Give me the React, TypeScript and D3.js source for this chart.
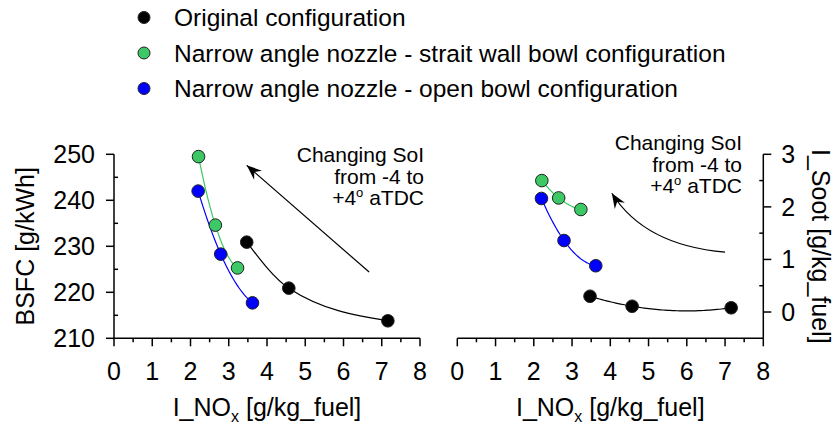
import React from "react";
import * as d3 from "d3";

// I_NOx [g/kg_fuel] for each configuration (SoI -4, 0, +4 deg aTDC)
const noxOriginal = [3.47, 4.57, 7.16];
const noxStrait = [2.21, 2.65, 3.23];
const noxOpen = [2.2, 2.79, 3.62];

// BSFC [g/kWh]
const bsfcOriginal = [230.9, 220.9, 213.8];
const bsfcStrait = [249.5, 234.6, 225.3];
const bsfcOpen = [242.0, 228.3, 217.7];

// I_Soot [g/kg_fuel]
const sootOriginal = [0.3, 0.11, 0.08];
const sootStrait = [2.5, 2.17, 1.95];
const sootOpen = [2.16, 1.36, 0.88];

const legendLabels = [
  "Original configuration",
  "Narrow angle nozzle - strait wall bowl configuration",
  "Narrow angle nozzle - open bowl configuration",
];
const seriesColors = ["#000000", "#3cc864", "#0000ff"];

const xTicks = [0, 1, 2, 3, 4, 5, 6, 7, 8];
const bsfcTicks = [210, 220, 230, 240, 250];
const sootTicks = [0, 1, 2, 3];

const FONT = "'Liberation Sans', Arial, sans-serif";

// quadratic through three points
function quad(xs: number[], ys: number[]) {
  return (x: number) => {
    let s = 0;
    for (let i = 0; i < 3; i++) {
      let t = ys[i];
      for (let j = 0; j < 3; j++) if (j !== i) t *= (x - xs[j]) / (xs[i] - xs[j]);
      s += t;
    }
    return s;
  };
}

function fitPoints(xs: number[], ys: number[]) {
  const f = quad(xs, ys);
  const a = xs[0];
  const b = xs[xs.length - 1];
  return d3.range(0, 61).map((i) => {
    const x = a + ((b - a) * i) / 60;
    return [x, f(x)] as [number, number];
  });
}

function arrowHead(tip: [number, number], from: [number, number]) {
  const ang = Math.atan2(tip[1] - from[1], tip[0] - from[0]);
  const L = 15;
  const W = 6;
  const N = 10;
  const ca = Math.cos(ang);
  const sa = Math.sin(ang);
  const pt = (u: number, v: number) => [tip[0] + u * ca - v * sa, tip[1] + u * sa + v * ca];
  const p1 = pt(-L, W);
  const p2 = pt(-N, 0);
  const p3 = pt(-L, -W);
  return `M${tip[0]},${tip[1]}L${p1[0]},${p1[1]}L${p2[0]},${p2[1]}L${p3[0]},${p3[1]}Z`;
}

function SoIText({ x, y }: { x: number; y: number }) {
  return (
    <text x={x} y={y} fontSize={21} textAnchor="end" fontFamily={FONT}>
      <tspan x={x} dy={0}>Changing SoI</tspan>
      <tspan x={x} dy={21.5}>from -4 to</tspan>
      <tspan x={x} dy={21.5}>
        +4<tspan fontSize={13} dy={-8}>o</tspan>
        <tspan dy={8}> aTDC</tspan>
      </tspan>
    </text>
  );
}

function NoxLabel({ x, y }: { x: number; y: number }) {
  return (
    <text x={x} y={y} fontSize={25} textAnchor="middle" fontFamily={FONT}>
      I_NO<tspan fontSize={16} dy={6}>x</tspan>
      <tspan dy={-6}> [g/kg_fuel]</tspan>
    </text>
  );
}

export default function App() {
  const top = 154.3;
  const bottom = 338.3;
  const xL = d3.scaleLinear().domain([0, 8]).range([114, 420]);
  const xR = d3.scaleLinear().domain([0, 8]).range([457.3, 763.3]);
  const yB = d3.scaleLinear().domain([210, 250]).range([bottom, top]);
  const yS = d3.scaleLinear().domain([-0.5, 3]).range([bottom, top]);

  const noxSets = [noxOriginal, noxStrait, noxOpen];
  const bsfcSets = [bsfcOriginal, bsfcStrait, bsfcOpen];
  const sootSets = [sootOriginal, sootStrait, sootOpen];

  const lineL = d3.line<[number, number]>().x((d) => xL(d[0])).y((d) => yB(d[1]));
  const lineLMono = d3
    .line<[number, number]>()
    .x((d) => xL(d[0]))
    .y((d) => yB(d[1]))
    .curve(d3.curveMonotoneX);
  const lineR = d3.line<[number, number]>().x((d) => xR(d[0])).y((d) => yS(d[1]));

  const minorX = d3.range(0.5, 8, 1);
  const minorB = d3.range(215, 250, 10);
  const minorS = [0.5, 1.5, 2.5];

  const drawX = (x: d3.ScaleLinear<number, number>, key: string) => (
    <g key={key}>
      <line x1={x(0)} x2={x(8)} y1={bottom} y2={bottom} stroke="#000" strokeWidth={1.5} />
      {xTicks.map((t) => (
        <g key={t}>
          <line x1={x(t)} x2={x(t)} y1={bottom} y2={bottom + 8} stroke="#000" strokeWidth={1.5} />
          <text x={x(t)} y={bottom + 42} fontSize={25} textAnchor="middle" fontFamily={FONT}>
            {t}
          </text>
        </g>
      ))}
      {minorX.map((t) => (
        <line key={"m" + t} x1={x(t)} x2={x(t)} y1={bottom} y2={bottom + 4} stroke="#000" strokeWidth={1.5} />
      ))}
    </g>
  );

  // left arrow (straight)
  const la0: [number, number] = [xL(6.67), yB(224.4)];
  const la1: [number, number] = [xL(3.47), yB(247.6)];
  // right arrow (curved)
  const ra0: [number, number] = [xR(7.0), yS(1.14)];
  const raC: [number, number] = [xR(4.9), yS(1.27)];
  const ra1: [number, number] = [xR(4.04), yS(2.26)];

  const leftPath = (i: number) => {
    const xs = noxSets[i];
    const ys = bsfcSets[i];
    if (i === 0) {
      return lineLMono(xs.map((x, j) => [x, ys[j]] as [number, number])) || "";
    }
    return lineL(fitPoints(xs, ys)) || "";
  };

  return (
    <svg
      width={836}
      height={429}
      style={{ position: "absolute", left: 0, top: 0, background: "#fff" }}
      fontFamily={FONT}
    >
      <rect width={836} height={429} fill="#fff" />

      {/* legend */}
      {legendLabels.map((lab, i) => (
        <g key={lab}>
          <circle cx={144} cy={17.5 + i * 35.5} r={6} fill={seriesColors[i]} stroke="#222" strokeWidth={1} />
          <text x={174} y={17.5 + i * 35.5} dy="0.35em" fontSize={24.5} fontFamily={FONT}>
            {lab}
          </text>
        </g>
      ))}

      {/* left panel: BSFC */}
      {drawX(xL, "xl")}
      <line x1={xL(0)} x2={xL(0)} y1={bottom} y2={top} stroke="#000" strokeWidth={1.5} />
      {bsfcTicks.map((t) => (
        <g key={t}>
          <line x1={xL(0) - 8} x2={xL(0)} y1={yB(t)} y2={yB(t)} stroke="#000" strokeWidth={1.5} />
          <text x={xL(0) - 19} y={yB(t)} dy="0.36em" fontSize={25} textAnchor="end" fontFamily={FONT}>
            {t}
          </text>
        </g>
      ))}
      {minorB.map((t) => (
        <line key={"mb" + t} x1={xL(0)} x2={xL(0) + 4} y1={yB(t)} y2={yB(t)} stroke="#000" strokeWidth={1.5} />
      ))}
      <text
        transform={`translate(34,${(top + bottom) / 2}) rotate(-90)`}
        fontSize={25}
        textAnchor="middle"
        fontFamily={FONT}
      >
        BSFC [g/kWh]
      </text>
      <NoxLabel x={(xL(0) + xL(8)) / 2} y={416} />

      {noxSets.map((xs, i) => (
        <path key={"fl" + i} d={leftPath(i)} fill="none" stroke={seriesColors[i]} strokeWidth={1.2} />
      ))}
      {noxSets.map((xs, i) =>
        xs.map((x, j) => (
          <circle key={"pl" + i + j} cx={xL(x)} cy={yB(bsfcSets[i][j])} r={6.3} fill={seriesColors[i]} stroke="#222" strokeWidth={1} />
        ))
      )}

      <line x1={la0[0]} y1={la0[1]} x2={la1[0]} y2={la1[1]} stroke="#000" strokeWidth={1.2} />
      <path d={arrowHead(la1, la0)} fill="#000" />
      <SoIText x={424} y={162} />

      {/* right panel: soot */}
      {drawX(xR, "xr")}
      <line x1={xR(8)} x2={xR(8)} y1={bottom} y2={top} stroke="#000" strokeWidth={1.5} />
      {sootTicks.map((t) => (
        <g key={t}>
          <line x1={xR(8)} x2={xR(8) + 8} y1={yS(t)} y2={yS(t)} stroke="#000" strokeWidth={1.5} />
          <text x={xR(8) + 18} y={yS(t)} dy="0.36em" fontSize={25} textAnchor="start" fontFamily={FONT}>
            {t}
          </text>
        </g>
      ))}
      {minorS.map((t) => (
        <line key={"ms" + t} x1={xR(8) - 4} x2={xR(8)} y1={yS(t)} y2={yS(t)} stroke="#000" strokeWidth={1.5} />
      ))}
      <text
        transform={`translate(812,${(top + bottom) / 2}) rotate(90)`}
        fontSize={25}
        textAnchor="middle"
        fontFamily={FONT}
      >
        I_Soot [g/kg_fuel]
      </text>
      <NoxLabel x={(xR(0) + xR(8)) / 2} y={416} />

      {noxSets.map((xs, i) => (
        <path key={"fr" + i} d={lineR(fitPoints(xs, sootSets[i])) || ""} fill="none" stroke={seriesColors[i]} strokeWidth={1.2} />
      ))}
      {noxSets.map((xs, i) =>
        xs.map((x, j) => (
          <circle key={"pr" + i + j} cx={xR(x)} cy={yS(sootSets[i][j])} r={6.3} fill={seriesColors[i]} stroke="#222" strokeWidth={1} />
        ))
      )}

      <path
        d={`M${ra0[0]},${ra0[1]}Q${raC[0]},${raC[1]} ${ra1[0]},${ra1[1]}`}
        fill="none"
        stroke="#000"
        strokeWidth={1.2}
      />
      <path d={arrowHead(ra1, raC)} fill="#000" />
      <SoIText x={742} y={150} />
    </svg>
  );
}
